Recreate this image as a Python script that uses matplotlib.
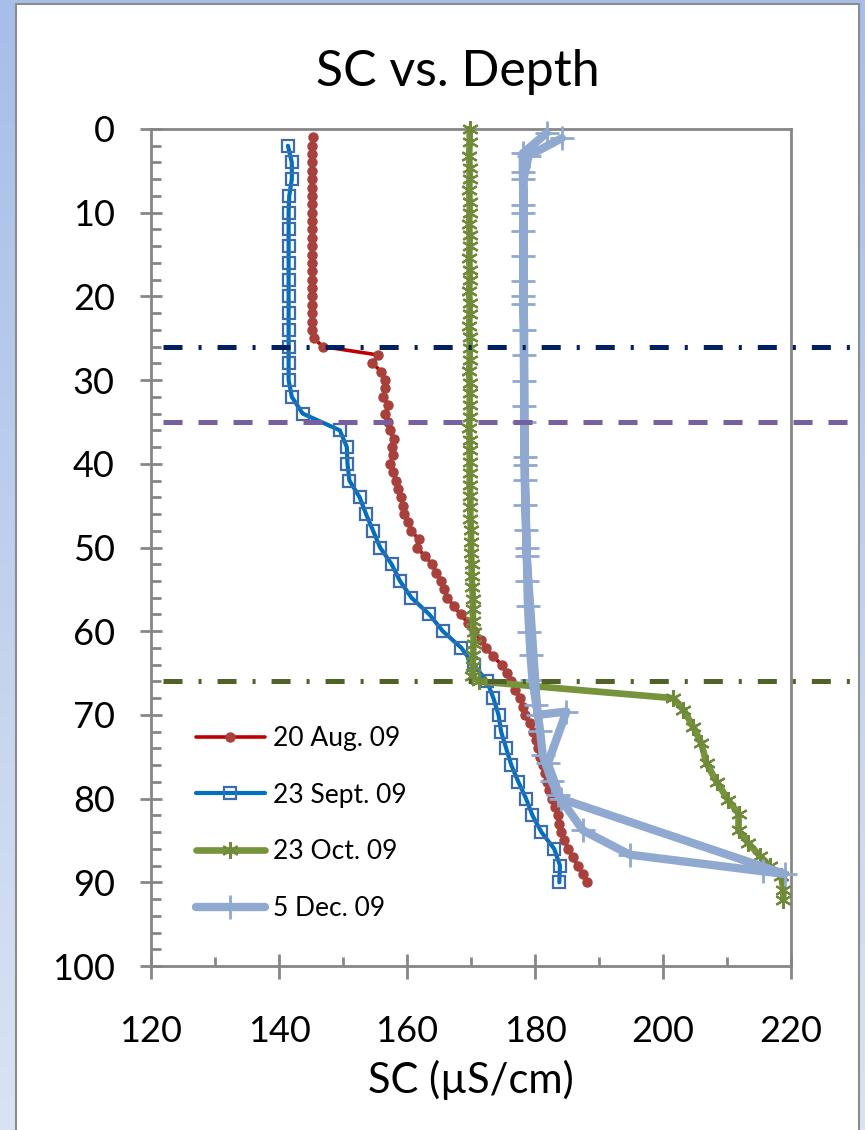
import numpy as np
import matplotlib
matplotlib.use('Agg')
from matplotlib import pyplot as plt
from matplotlib.patches import Rectangle
from matplotlib.ticker import MultipleLocator

plt.rcParams['font.family'] = ['Lato', 'DejaVu Sans']
plt.rcParams['lines.scale_dashes'] = False

# 20 Aug. 09 profile
aug_depth = [1, 2, 3, 4, 5, 6, 7, 8, 9, 10, 11, 12, 13, 14, 15, 16, 17, 18, 19, 20,
             21, 22, 23, 24, 25, 26, 27, 28, 29, 30, 31, 32, 33, 34, 35, 36, 37, 38, 39, 40,
             41, 42, 43, 44, 45, 46, 47, 48, 49, 50, 51, 52, 53, 54, 55, 56, 57, 58, 59, 60,
             61, 62, 63, 64, 65, 66, 67, 68, 69, 70, 71, 72, 73, 74, 75, 76, 77, 78, 79, 80,
             81, 82, 83, 84, 85, 86, 87, 88, 89, 90]
aug_sc = [145.3, 145.2, 145.1, 145.2, 145.1, 145.2, 145.1, 145.2, 145.2, 145.1,
          145.2, 145.1, 145.2, 145.2, 145.1, 145.2, 145.1, 145.2, 145.1, 145.2,
          145.1, 145.2, 145.1, 145.2, 145.4, 146.9, 155.5, 154.6, 156.0, 156.5,
          156.6, 156.3, 157.1, 156.6, 157.1, 157.3, 157.9, 157.6, 157.8, 157.4,
          157.8, 158.3, 158.6, 159.0, 159.4, 159.5, 160.2, 160.7, 161.8, 161.5,
          162.8, 163.9, 164.6, 165.3, 165.8, 166.3, 167.3, 168.4, 169.5, 170.5,
          171.5, 172.4, 173.4, 174.8, 175.6, 176.3, 176.9, 177.6, 178.2, 178.4,
          179.2, 179.7, 180.1, 180.5, 180.8, 181.2, 181.5, 181.8, 182.2, 182.7,
          183.2, 183.6, 183.8, 184.1, 184.6, 185.2, 185.9, 186.7, 187.5, 188.2]

# 23 Sept. 09 profile
sep_depth = [2, 4, 6, 8, 10, 12, 14, 16, 18, 20, 22, 24, 26, 28, 30, 32, 34, 36, 38, 40,
             42, 44, 46, 48, 50, 52, 54, 56, 58, 60, 62, 64, 66, 68, 70, 72, 74, 76, 78, 80,
             82, 84, 86, 88, 90]
sep_sc = [141.4, 142.0, 142.0, 141.6, 141.5, 141.5, 141.5, 141.5, 141.5, 141.5,
          141.5, 141.5, 141.5, 141.5, 141.5, 142.0, 143.7, 149.5, 150.6, 150.7,
          151.0, 152.6, 153.6, 154.7, 155.8, 157.6, 158.9, 160.7, 163.5, 165.6,
          168.5, 170.4, 172.5, 173.5, 174.3, 174.7, 175.5, 176.3, 177.4, 178.6,
          179.6, 181.0, 183.0, 183.9, 183.8]

# 23 Oct. 09 profile
oct_depth = [0, 1.6, 3.2, 4.7, 6.0, 7.3, 8.7, 10.0, 11.3, 12.7, 14.0, 15.4, 16.8, 18.1,
             19.4, 20.8, 22.1, 23.5, 24.9, 26.2, 27.6, 28.9, 30.3, 31.6, 33.0, 34.4, 35.7,
             37.1, 38.4, 39.8, 41.1, 42.5, 43.9, 45.2, 46.6, 47.9, 49.3, 50.6, 52.0, 53.4,
             54.7, 56.1, 57.4, 58.8, 60.1, 61.5, 62.9, 64.2, 65.4, 66.0, 68.0, 69.4, 71.4,
             73.4, 75.8, 78.0, 80.2, 81.8, 83.8, 85.3, 86.9, 88.1, 89.3, 90.9, 92.1]
oct_sc = [169.8, 169.8, 169.7, 169.8, 169.8, 169.7, 169.8, 169.8, 169.7, 169.8,
          169.8, 169.7, 169.8, 169.8, 169.7, 169.8, 169.8, 169.7, 169.8, 169.8,
          169.8, 169.7, 169.8, 169.8, 169.8, 169.8, 169.7, 169.8, 169.8, 169.8,
          169.8, 169.8, 169.9, 169.9, 169.9, 170.0, 170.0, 170.0, 170.1, 170.1,
          170.2, 170.3, 170.3, 170.3, 170.4, 170.4, 170.3, 170.3, 170.2, 171.2,
          201.6, 203.2, 204.7, 206.0, 206.8, 208.4, 210.2, 211.8, 211.8, 213.3,
          215.2, 216.7, 218.5, 218.8, 218.8]

# 5 Dec. 09 profile (down and back up)
dec_depth = [0.5, 2.9, 5.1, 9.1, 12.2, 15.2, 18.2, 20.0, 24.0, 27.0, 30.1, 33.1, 35.0,
             39.2, 41.9, 44.9, 47.9, 50.1, 54.0, 57.0, 60.1, 62.8, 65.8, 68.8, 71.9,
             74.8, 77.9, 79.6, 83.8, 86.7, 88.7, 89.0,
             80.0, 75.8, 69.6, 70.0, 51.0, 40.1, 20.9, 10.0, 6.0, 3.2, 1.1]
dec_sc = [181.8, 178.1, 178.1, 178.2, 178.2, 178.2, 178.2, 178.2, 178.3, 178.3, 178.3,
          178.3, 178.3, 178.4, 178.4, 178.5, 178.6, 178.7, 178.8, 178.9, 179.1, 179.3,
          179.6, 180.2, 180.8, 181.2, 182.6, 183.6, 187.5, 194.8, 215.7, 219.0,
          184.0, 182.0, 184.9, 180.4, 178.7, 178.4, 178.2, 178.2, 178.2, 179.0, 184.2]

# horizontal reference depths
ref_depths = [26, 35, 66]
ref_colors = ['#002060', '#7660A0', '#4F6228']
ref_dashes = [(13.7, 11.5, 2.2, 11.5), (13.7, 11.5), (13.7, 11.5, 2.2, 11.5)]

W, H = 865, 1130
fig = plt.figure(figsize=(W / 100, H / 100), dpi=100)

# blue gradient behind the white chart panel
bg = fig.add_axes([0, 0, 1, 1])
grad = np.linspace(0, 1, 256).reshape(-1, 1)
top = np.array([166, 190, 232]) / 255
bot = np.array([218, 227, 243]) / 255
img = top + (bot - top) * grad[:, :, None]
bg.imshow(img, aspect='auto', extent=[0, 1, 0, 1], origin='upper')
bg.set_axis_off()
fig.patches.append(Rectangle((16 / W, -0.01), (859 - 16) / W, 1.01 - 4 / H,
                             transform=fig.transFigure, facecolor='white',
                             edgecolor='#8c8c8c', linewidth=1.5, zorder=1))

ax = fig.add_axes([151 / W, 1 - 966 / H, 640 / W, 837 / H])
ax.set_zorder(2)
ax.set_facecolor('none')

ax.plot(aug_sc, aug_depth, color='#C00000', lw=2.6, marker='o', ms=6.5,
        mfc='#A8403C', mec='#A8403C', label='20 Aug. 09', clip_on=False,
        solid_capstyle='round', zorder=3)
ax.plot(sep_sc, sep_depth, color='#0070C0', lw=3, marker='s', ms=8,
        mfc='none', mec='#3A6CAE', mew=1.6, label='23 Sept. 09', clip_on=False,
        solid_capstyle='round', zorder=3)
ax.plot(oct_sc, oct_depth, color='#77933C', lw=4.8, marker=(6, 2, 0), ms=12,
        mec='#6F8A38', mew=1.6, label='23 Oct. 09', clip_on=False,
        solid_capstyle='round', zorder=3)
ax.plot(dec_sc, dec_depth, color='#8FA9D1', lw=6, marker='+', ms=17,
        mec='#8FA9D1', mew=2, label='5 Dec. 09', clip_on=False,
        solid_capstyle='round', solid_joinstyle='round', zorder=3)

for d, c, ds in zip(ref_depths, ref_colors, ref_dashes):
    ln = ax.axhline(d, xmin=(163 - 151) / 640, xmax=(850 - 151) / 640, color=c,
                    lw=3.6, clip_on=False, zorder=4)
    ln.set_dashes(ds)

ax.set_xlim(120, 220)
ax.set_ylim(100, 0)
ax.xaxis.set_major_locator(MultipleLocator(20))
ax.xaxis.set_minor_locator(MultipleLocator(10))
ax.yaxis.set_major_locator(MultipleLocator(10))
ax.yaxis.set_minor_locator(MultipleLocator(2))

gray = '#868686'
for s in ax.spines.values():
    s.set_color(gray)
    s.set_linewidth(2)
ax.tick_params(axis='y', which='major', direction='inout', length=16, width=2,
               color=gray, labelsize=26, pad=18)
ax.tick_params(axis='y', which='minor', direction='in', length=7, width=2, color=gray)
ax.tick_params(axis='x', which='major', direction='inout', length=18, width=2,
               color=gray, labelsize=26, pad=26)
ax.tick_params(axis='x', which='minor', direction='in', length=6.5, width=2, color=gray)

ax.set_xlabel('SC (µS/cm)', fontsize=30, labelpad=9)
fig.text(458 / W, 1 - 72 / H, 'SC vs. Depth', ha='center', va='center', fontsize=36)

ax.legend(loc='upper left', bbox_to_anchor=(196 / W, 1 - 726 / H),
          bbox_transform=fig.transFigure, frameon=False, fontsize=19,
          numpoints=1, handlelength=2.6, handletextpad=0.3, labelspacing=1.2,
          borderpad=0, borderaxespad=0)

plt.savefig('out.png', dpi=100)
